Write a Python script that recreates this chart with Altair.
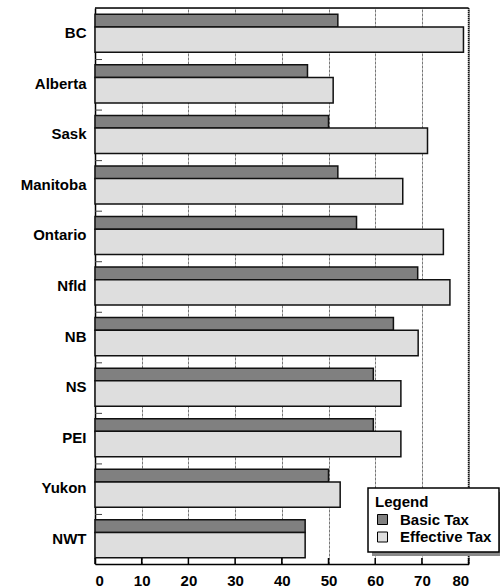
import altair as alt
import pandas as pd

provinces = ["BC", "Alberta", "Sask", "Manitoba", "Ontario", "Nfld", "NB", "NS", "PEI", "Yukon", "NWT"]
basic_tax = [52.0, 45.5, 50.0, 52.0, 56.0, 69.1, 63.9, 59.6, 59.6, 50.0, 45.0]
effective_tax = [78.9, 51.0, 71.2, 65.9, 74.6, 76.0, 69.2, 65.5, 65.5, 52.5, 45.0]
series_names = ["Basic Tax", "Effective Tax"]
series_colors = ["#808080", "#dedede"]
x_ticks = [0, 10, 20, 30, 40, 50, 60, 70, 80]

W = 373.6
H = 556
BAND = H / len(provinces)

basic_df = pd.DataFrame({"province": provinces, "value": basic_tax, "series": series_names[0]})
eff_df = pd.DataFrame({"province": provinces, "value": effective_tax, "series": series_names[1]})
bound_df = pd.DataFrame({"province": provinces[:-1]})
tick_df = pd.DataFrame({"t": x_ticks})
one_df = pd.DataFrame({"k": [0]})

font = "Liberation Sans"

y_scale = alt.Scale(domain=provinces, paddingInner=0, paddingOuter=0)
x_scale = alt.Scale(domain=[0, 80], nice=False)
color_scale = alt.Scale(domain=series_names, range=series_colors)

legend = alt.Legend(
    title="Legend", orient="none", legendX=273, legendY=480,
    fillColor="white", strokeColor="black", padding=7,
    titleFont=font, titleFontSize=15, titleFontWeight="bold", titleColor="black", titlePadding=2,
    labelFont=font, labelFontSize=15, labelFontWeight="bold", labelColor="black",
    symbolType="square", symbolSize=100, symbolStrokeColor="black", symbolStrokeWidth=1,
    symbolOpacity=1, labelOffset=10, rowPadding=1.5,
)

x_axis = alt.Axis(
    values=x_ticks, title=None, grid=True, gridDash=[3, 1], gridColor="#777", gridWidth=1,
    ticks=False, tickSize=0, labelPadding=9, labelFont=font, labelFontSize=15,
    labelFontWeight="bold", labelColor="black", domainColor="black", domainWidth=1.5,
)
y_axis = alt.Axis(
    title=None, ticks=False, tickSize=0, labelPadding=9, labelFont=font, labelFontSize=15,
    labelFontWeight="bold", labelColor="black", domainColor="black", domainWidth=1.5, grid=False,
)

basic = alt.Chart(basic_df).mark_bar(
    height=12.7, yOffset=-12.6, stroke="#111", strokeWidth=1.5
).encode(
    x=alt.X("value:Q", scale=x_scale, axis=x_axis),
    y=alt.Y("province:N", scale=y_scale, axis=y_axis, sort=provinces),
    color=alt.Color("series:N", scale=color_scale, legend=legend),
)

eff = alt.Chart(eff_df).mark_bar(
    height=25.4, yOffset=6.4, stroke="#111", strokeWidth=1.5
).encode(
    x=alt.X("value:Q", scale=x_scale),
    y=alt.Y("province:N", scale=y_scale, sort=provinces),
    color=alt.Color("series:N", scale=color_scale, legend=legend),
)

bounds = alt.Chart(bound_df).mark_rule(color="#444", strokeWidth=1, yOffset=BAND / 2 + 1).encode(
    y=alt.Y("province:N", scale=y_scale, sort=provinces),
    x=alt.value(0), x2=alt.value(7),
)

xticks = alt.Chart(tick_df).mark_rule(color="black", strokeWidth=1.5).encode(
    x=alt.X("t:Q", scale=x_scale),
    y=alt.value(H - 6), y2=alt.value(H),
)

top_border = alt.Chart(one_df).mark_rule(color="black", strokeWidth=1.5).encode(
    x=alt.value(0), x2=alt.value(W), y=alt.value(0)
)
right_base = alt.Chart(one_df).mark_rule(color="#999", strokeWidth=1.5).encode(
    x=alt.value(W), y=alt.value(0), y2=alt.value(H)
)
right_dots = alt.Chart(one_df).mark_rule(color="#111", strokeWidth=1.5, strokeDash=[1, 1]).encode(
    x=alt.value(W), y=alt.value(0), y2=alt.value(H)
)

shadow = alt.Chart(one_df).mark_rect(color="#8a8a8a", opacity=1).encode(
    x=alt.value(277), x2=alt.value(405), y=alt.value(484), y2=alt.value(548)
)

chart = alt.layer(
    right_base, right_dots, basic, eff, bounds, xticks, top_border, shadow
).properties(
    width=W, height=H,
    autosize=alt.AutoSizeParams(type="none"),
    padding={"left": 95, "top": 8, "right": 504 - 95 - W, "bottom": 588 - 8 - H},
    background="white",
).configure_view(stroke=None).configure(font=font).configure_legend(strokeWidth=1.5)

chart.save("out.html", embed_options={"renderer": "svg", "actions": False})
